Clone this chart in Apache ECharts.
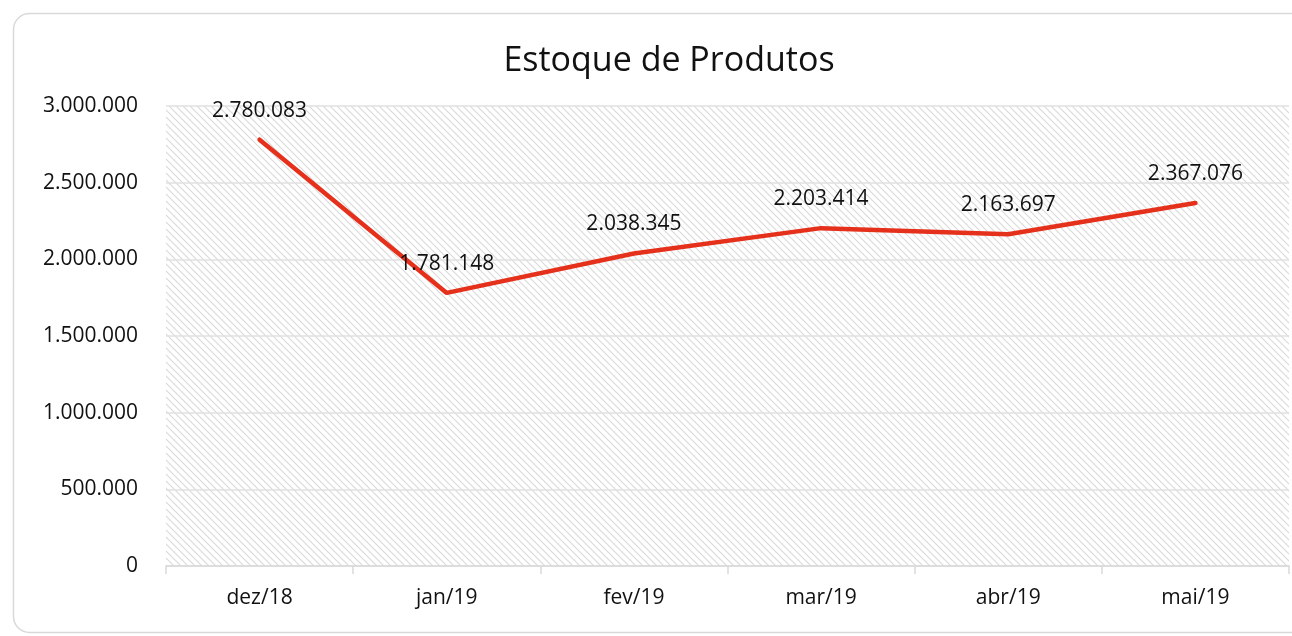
<!DOCTYPE html>
<html>
<head>
<meta charset="utf-8">
<script src="https://cdn.jsdelivr.net/npm/echarts@6/dist/echarts.min.js"></script>
<style>
  html, body { margin: 0; padding: 0; background: #fff; }
  #main { width: 1292px; height: 636px; }
</style>
</head>
<body>
<div id="main"></div>
<script>
// 类目（月份）
var meses = ['dez/18', 'jan/19', 'fev/19', 'mar/19', 'abr/19', 'mai/19'];
// 库存值
var estoque = [2780083, 1781148, 2038345, 2203414, 2163697, 2367076];
// y轴刻度
var yMax = 3000000;
var yStep = 500000;

// 千分位用点号
function fmt(v) {
  return String(v).replace(/\B(?=(\d{3})+(?!\d))/g, '.');
}

// 斜线底纹
var hatch = document.createElement('canvas');
hatch.width = 7;
hatch.height = 7;
var ctx = hatch.getContext('2d');
ctx.fillStyle = '#ffffff';
ctx.fillRect(0, 0, 7, 7);
ctx.strokeStyle = '#dadada';
ctx.lineWidth = 1.2;
ctx.beginPath();
ctx.moveTo(-1, -1); ctx.lineTo(8, 8);
ctx.moveTo(-1, 6); ctx.lineTo(1, 8);
ctx.moveTo(6, -1); ctx.lineTo(8, 1);
ctx.stroke();

var myChart = echarts.init(document.getElementById('main'));
var option = {
  backgroundColor: '#fff',
  textStyle: { fontFamily: '"Open Sans", "Noto Sans", sans-serif' },
  graphic: [{
    type: 'rect',
    shape: { x: 13.5, y: 13.5, width: 1300, height: 619, r: 16 },
    style: { fill: 'none', stroke: '#d9d9d9', lineWidth: 1.5 },
    silent: true,
    z: -1
  }],
  title: {
    text: 'Estoque de Produtos',
    left: 664,
    textAlign: 'center',
    top: 39,
    textStyle: { fontSize: 34, fontWeight: 'normal', color: '#111' }
  },
  grid: {
    left: 166, right: 3, top: 106, bottom: 70,
    show: true,
    borderWidth: 0,
    backgroundColor: { image: hatch, repeat: 'repeat' }
  },
  xAxis: {
    type: 'category',
    data: meses,
    boundaryGap: true,
    axisLine: { lineStyle: { color: '#d9d9d9', width: 1.5 } },
    axisTick: { show: true, length: 8, lineStyle: { color: '#d9d9d9', width: 1.5 } },
    axisLabel: { color: '#111', fontSize: 21, margin: 22 }
  },
  yAxis: {
    type: 'value',
    min: 0,
    max: yMax,
    interval: yStep,
    axisLine: { show: false },
    axisTick: { show: false },
    splitLine: { lineStyle: { color: '#e0e0e0', width: 1.5 } },
    axisLabel: { color: '#111', fontSize: 21, margin: 28, formatter: fmt }
  },
  series: [{
    type: 'line',
    data: estoque,
    symbol: 'circle',
    symbolSize: 1,
    showSymbol: true,
    itemStyle: { color: 'rgba(0,0,0,0)' },
    lineStyle: { color: '#e5311b', width: 4.5, cap: 'round' },
    label: {
      show: true,
      position: 'top',
      distance: 18,
      color: '#111',
      fontSize: 21,
      formatter: function (p) { return fmt(p.value); }
    }
  }]
};
myChart.setOption(option);
</script>
</body>
</html>
